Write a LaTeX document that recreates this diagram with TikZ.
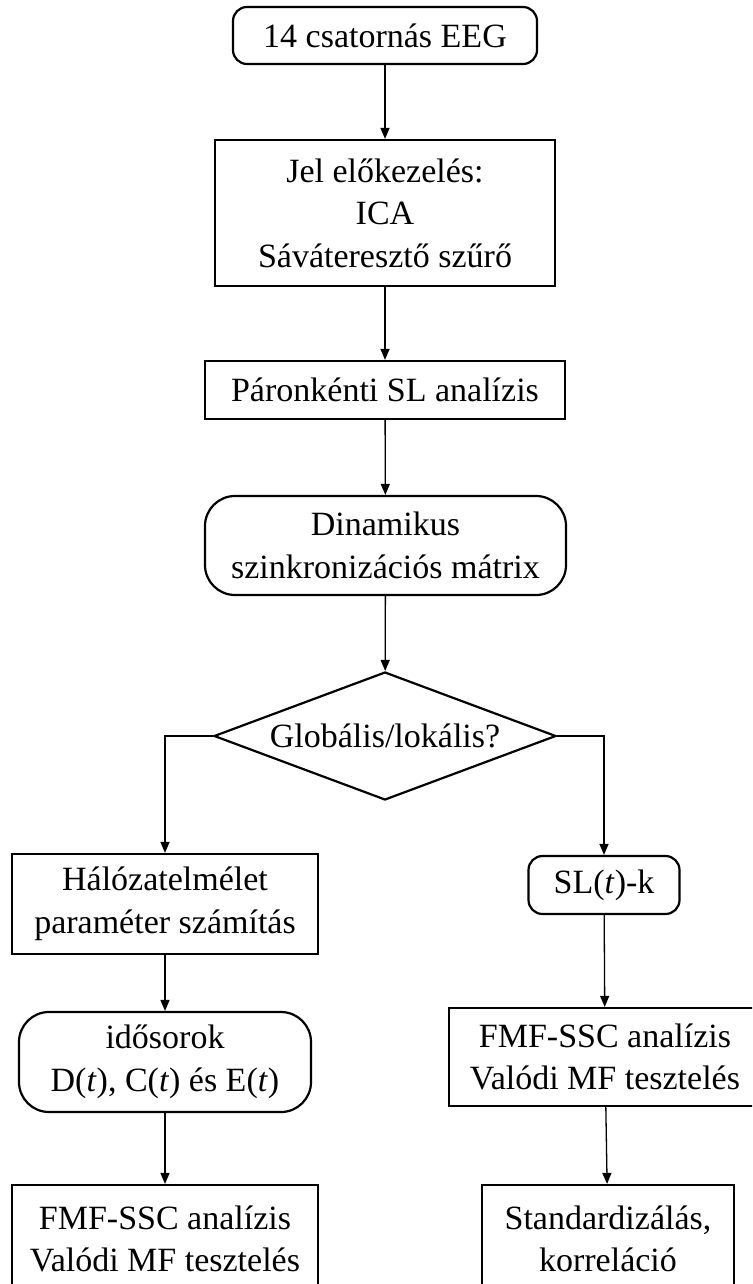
\documentclass[tikz,border=0pt]{standalone}
\usepackage{fontspec}
\setmainfont{Liberation Serif}
\usetikzlibrary{shapes.geometric,arrows.meta}
\begin{document}
\begin{tikzpicture}[x=1pt,y=-1pt,
  every node/.style={font=\fontsize{34}{42.5}\selectfont, align=center, inner sep=0pt},
  box/.style={draw, line width=2.2pt, rectangle},
  rbox/.style={draw, line width=2.2pt, rectangle, rounded corners=#1},
  rbox/.default=14pt,
  decision/.style={draw, line width=2.2pt, shape=diamond, aspect=2.67, minimum width=342pt, minimum height=128pt},
  conn/.style={line width=1.3pt, -{Triangle[length=11pt,width=9pt]}}]
\useasboundingbox (0,0) rectangle (752,1284);
\clip (0,0) rectangle (752,1284);
\fill[white] (0,0) rectangle (752,1284);

\node[rbox, minimum width=304pt, minimum height=57pt] (A) at (385,35.5) {14 csatornás EEG};
\node[box, minimum width=340pt, minimum height=146pt] (B) at (385,213) {Jel előkezelés:\\ICA\\Sáváteresztő szűrő};
\node[box, minimum width=360pt, minimum height=58pt] (C) at (385,390) {Páronkénti SL analízis};
\node[rbox=30pt, minimum width=361pt, minimum height=99pt] (D) at (385.5,545.5) {Dinamikus\\szinkronizációs mátrix};
\node[decision] (E) at (385,736) {Globális/lokális?};
\node[box, minimum width=306pt, minimum height=100pt] (F) at (165,904) {Hálózatelmélet\\paraméter számítás};
\node[rbox, minimum width=151pt, minimum height=58pt] (G) at (604,885) {SL(\textit{t})-k};
\node[rbox=30pt, minimum width=292pt, minimum height=100pt] (H) at (165,1062) {idősorok\\D(\textit{t}), C(\textit{t}) és E(\textit{t})};
\node[box, minimum width=312pt, minimum height=98pt] (I) at (605,1057) {FMF-SSC analízis\\Valódi MF tesztelés};
\node[box, minimum width=306pt, minimum height=108pt] (J) at (165,1239) {FMF-SSC analízis\\Valódi MF tesztelés};
\node[box, minimum width=252pt, minimum height=108pt] (K) at (608,1239) {Standardizálás,\\korreláció};

\draw[conn] (A) -- (B);
\draw[conn] (B) -- (C);
\draw[conn] (C) -- (D);
\draw[conn] (D) -- (E);
\draw[conn] (E.west) -| (F.north);
\draw[conn] (E.east) -| (G.north);
\draw[conn] (F) -- (H);
\draw[conn] (G) -- (I);
\draw[conn] (H) -- (J);
\draw[conn] (I) -- (K);
\end{tikzpicture}
\end{document}
